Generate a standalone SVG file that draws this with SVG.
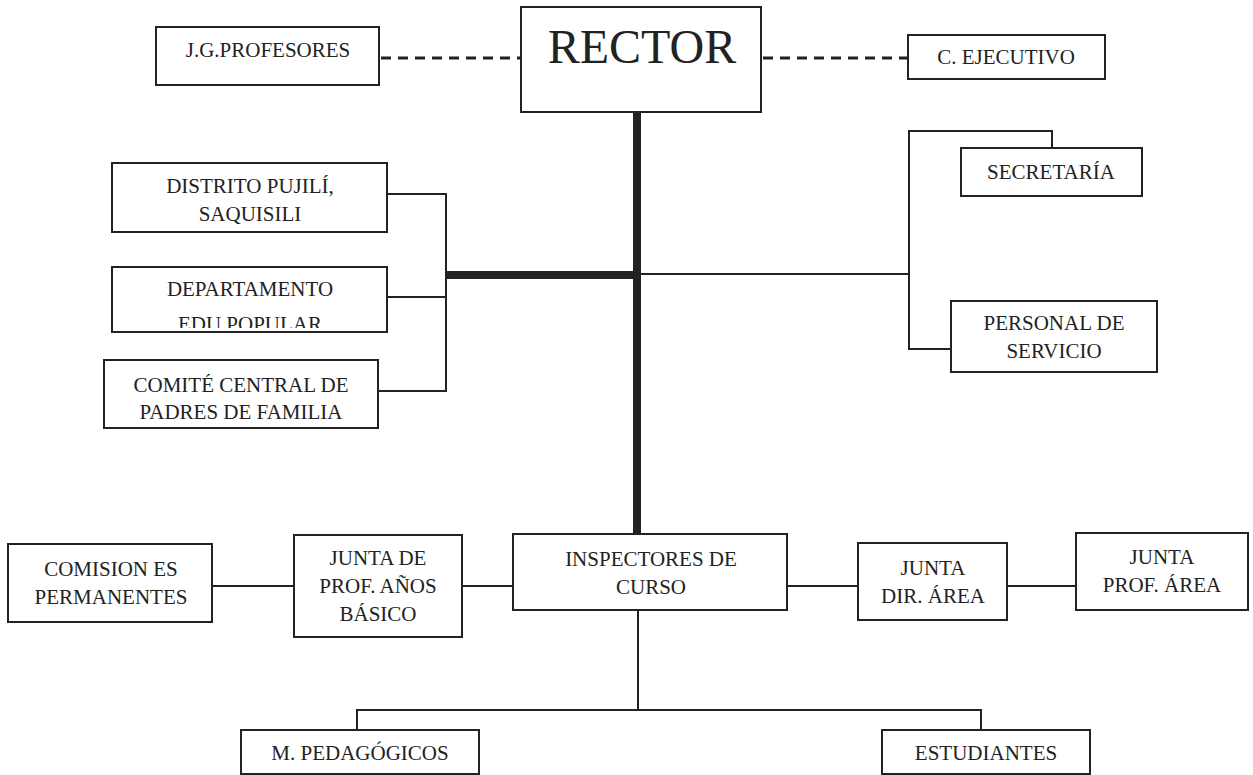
<svg xmlns="http://www.w3.org/2000/svg" width="1253" height="775" viewBox="0 0 1253 775">
<style>
.box{fill:#fff;stroke:#222;stroke-width:2}
.t{font-family:"Liberation Serif","Times New Roman",serif;font-size:21px;fill:#222;text-anchor:middle}
.big{font-size:48px}
.ln{fill:none;stroke:#222;stroke-width:2;stroke-linecap:square}
.thick{fill:none;stroke:#222;stroke-width:8}
.dash{fill:none;stroke:#222;stroke-width:3;stroke-dasharray:10 7}
</style>
<defs>
<clipPath id="clipDep"><rect x="113" y="268" width="273" height="60"/></clipPath>
</defs>
<rect width="1253" height="775" fill="#fff"/>
<g id="connectors">
<path class="dash" d="M381 58 H520"/>
<path class="dash" d="M763 58 H907"/>
<path class="thick" d="M637 112 V534"/>
<path class="thick" d="M446 275 H637"/>
<path class="ln" d="M387 194 H446 V391 H378 M387 297 H446"/>
<path class="ln" d="M637 274 H909 V131 H1052 V148 M909 274 V349 H951"/>
<path class="ln" d="M212 586 H294 M462 586 H513 M787 586 H858 M1007 586 H1076"/>
<path class="ln" d="M638 610 V710 M357 730 V710 H981 V730"/>
</g>
<g id="rector"><rect class="box" x="521" y="7" width="240" height="105"/><text class="t big" x="642" y="63">RECTOR</text></g>
<g id="jgprofesores"><rect class="box" x="156" y="27" width="223" height="58"/><text class="t" x="268" y="57">J.G.PROFESORES</text></g>
<g id="cejecutivo"><rect class="box" x="908" y="35" width="197" height="44"/><text class="t" x="1006" y="64">C. EJECUTIVO</text></g>
<g id="distrito"><rect class="box" x="112" y="163" width="275" height="69"/><text class="t" x="250" y="193">DISTRITO PUJILÍ,</text><text class="t" x="250" y="221">SAQUISILI</text></g>
<g id="departamento"><rect class="box" x="112" y="267" width="275" height="65"/><text class="t" x="250" y="296">DEPARTAMENTO</text><text class="t" x="250" y="331" clip-path="url(#clipDep)">EDU POPULAR</text></g>
<g id="comite"><rect class="box" x="104" y="360" width="274" height="68"/><text class="t" x="241" y="392">COMITÉ CENTRAL DE</text><text class="t" x="241" y="419">PADRES DE FAMILIA</text></g>
<g id="secretaria"><rect class="box" x="961" y="148" width="181" height="48"/><text class="t" x="1051" y="179">SECRETARÍA</text></g>
<g id="personal"><rect class="box" x="951" y="301" width="206" height="71"/><text class="t" x="1054" y="330">PERSONAL DE</text><text class="t" x="1054" y="358">SERVICIO</text></g>
<g id="comisiones"><rect class="box" x="8" y="544" width="204" height="78"/><text class="t" x="111" y="576">COMISION ES</text><text class="t" x="111" y="604">PERMANENTES</text></g>
<g id="juntaprofbasico"><rect class="box" x="294" y="535" width="168" height="102"/><text class="t" x="378" y="565">JUNTA DE</text><text class="t" x="378" y="593">PROF. AÑOS</text><text class="t" x="378" y="621">BÁSICO</text></g>
<g id="inspectores"><rect class="box" x="513" y="534" width="274" height="76"/><text class="t" x="651" y="566">INSPECTORES DE</text><text class="t" x="651" y="594">CURSO</text></g>
<g id="juntadir"><rect class="box" x="858" y="543" width="149" height="77"/><text class="t" x="933" y="575">JUNTA</text><text class="t" x="933" y="603">DIR. ÁREA</text></g>
<g id="juntaprof"><rect class="box" x="1076" y="533" width="172" height="77"/><text class="t" x="1162" y="564">JUNTA</text><text class="t" x="1162" y="592">PROF. ÁREA</text></g>
<g id="mpedagogicos"><rect class="box" x="241" y="730" width="238" height="44"/><text class="t" x="360" y="760">M. PEDAGÓGICOS</text></g>
<g id="estudiantes"><rect class="box" x="882" y="730" width="208" height="44"/><text class="t" x="986" y="760">ESTUDIANTES</text></g>
</svg>
